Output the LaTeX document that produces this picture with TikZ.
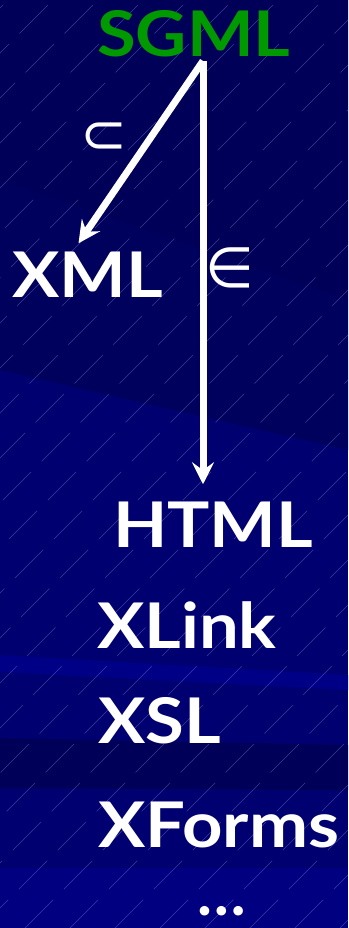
\documentclass[tikz,border=0pt]{standalone}
\usepackage{graphicx}
\usepackage{fontspec}
\setmainfont{Lato}
\newfontfamily\symfont{DejaVu Sans}
\usetikzlibrary{arrows.meta}

\definecolor{slidebg}{RGB}{0,0,112}
\definecolor{darkband}{RGB}{0,0,88}
\definecolor{lightband}{RGB}{0,0,135}
\definecolor{sgmlgreen}{RGB}{0,153,0}

% Gill Sans is wider than Lato
\newcommand{\widetext}[1]{\scalebox{1.12}[1]{#1}}

\tikzset{
  lang/.style={inner sep=0pt, text=white, font=\fontsize{63}{63}\selectfont\bfseries},
  rel/.style={inner sep=0pt, text=white, font=\fontsize{56}{56}\selectfont\symfont},
  link/.style={draw=white, line width=7pt, -{Stealth[length=22pt, width=22pt, inset=8pt]}},
  hatch/.style={draw=white!70!blue, line width=0.5pt, opacity=0.35, dash pattern=on 40pt off 15pt}
}

\begin{document}
\begin{tikzpicture}[x=1pt, y=-1pt]
        \useasboundingbox (0,0) rectangle (348,928);
        % slide background
        \fill [slidebg] (0,0) rectangle (348,928);
        \fill [darkband] (0,0) -- (348,0) -- (348,300) -- (0,180) -- cycle;
        \fill [darkband!80!slidebg] (0,180) -- (348,300) -- (348,450) -- (0,370) -- cycle;
        \fill [lightband] (0,655) -- (348,675) -- (348,690) -- (0,672) -- cycle;
        \fill [darkband] (0,738) -- (348,745) -- (348,790) -- (0,788) -- cycle;
        \fill [lightband!70!slidebg] (0,868) rectangle (348,928);
        \begin{scope}
            \clip (0,0) rectangle (348,928);
            \foreach \i in {-920,-875,...,360}
                \draw [hatch] (\i,928) -- (\i+928,0);
        \end{scope}

        \node [lang, text=sgmlgreen, anchor=base west] (sgml) at (97,57) {\widetext{SGML}};
        \node [lang, anchor=base west] (xml) at (12,297) {\widetext{XML}};
        \node [lang, anchor=base west] (html) at (113,547) {\widetext{HTML}};
        \node [lang, anchor=base west] (xlink) at (97,648) {\widetext{XLink}};
        \node [lang, anchor=base west] (xsl) at (98,743) {\widetext{XSL}};
        \node [lang, anchor=base west] (xforms) at (98,847) {\widetext{XForms}};
        \node [lang, anchor=base] (more) at (222,915) {\dots};

        \coordinate (fork) at (203,61);
        \draw [link] (fork) -- ([xshift=-9pt, yshift=8pt]xml.north);
        \draw [link, shorten >=17pt] (fork) -- (fork |- html.north);

        \node [rel] (sub) at (104,138) {⊂};
        \node [rel] (elem) at (230,268) {∈};

    \end{tikzpicture}
\end{document}
